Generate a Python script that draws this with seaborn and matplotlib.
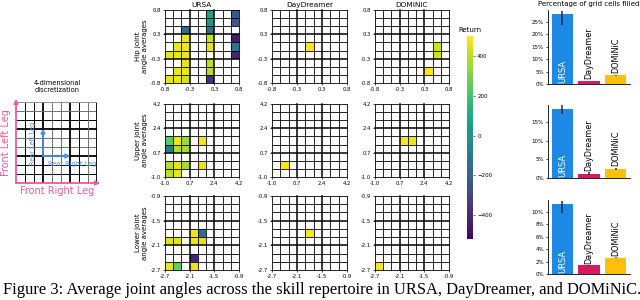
import numpy as np
import matplotlib
matplotlib.use("Agg")
import matplotlib.pyplot as plt
import seaborn as sns
from matplotlib.ticker import PercentFormatter

# --- data ---
methods = ["URSA", "DayDreamer", "DOMiNiC"]
method_colors = ["#1E88E5", "#D81B60", "#FFC107"]
joints = ["Hip", "Upper", "Lower"]
joint_ticks = {
    "Hip": ["-0.8", "-0.3", "0.3", "0.8"],
    "Upper": ["-1.0", "0.7", "2.4", "4.2"],
    "Lower": ["-2.7", "-2.1", "-1.5", "-0.9"],
}

# filled cells of the 9x9 grid: (row from top, column) -> return
ursa_hip = {(0, 5): 50, (1, 5): 20, (2, 5): -160, (0, 8): -240, (1, 8): -240,
            (2, 2): -150, (3, 2): 470, (3, 5): 420, (3, 8): -440,
            (4, 1): 470, (4, 2): 470, (4, 5): 460, (4, 8): -130,
            (5, 0): 470, (5, 1): 470, (5, 2): 470, (5, 8): -420,
            (6, 2): 460, (6, 5): 400, (7, 1): 470, (7, 2): 470, (7, 5): 390,
            (8, 0): 460, (8, 1): 470, (8, 2): 440, (8, 5): -380}
ursa_upper = {(4, 0): 250, (4, 1): 470, (4, 2): 340, (4, 4): 480,
              (5, 0): -110, (5, 1): 380, (5, 2): 360,
              (7, 0): 380, (7, 1): 460, (7, 2): 360, (7, 4): 470,
              (8, 0): 400, (8, 1): 470}
ursa_lower = {(4, 3): 470, (4, 4): -170, (5, 0): 460, (5, 1): 460,
              (5, 3): 470, (5, 4): 450, (7, 3): -410,
              (8, 0): 470, (8, 1): 260, (8, 3): 470}
dd_hip = {(4, 4): 490}
dd_upper = {(7, 1): 490}
dd_lower = {(4, 4): 490}
dom_hip = {(4, 7): 420, (5, 7): 430, (7, 6): 490}
dom_upper = {(4, 3): 490, (4, 4): 470}
dom_lower = {(8, 0): 490}

cells = {
    ("Hip", "URSA"): ursa_hip, ("Upper", "URSA"): ursa_upper, ("Lower", "URSA"): ursa_lower,
    ("Hip", "DayDreamer"): dd_hip, ("Upper", "DayDreamer"): dd_upper, ("Lower", "DayDreamer"): dd_lower,
    ("Hip", "DOMiNiC"): dom_hip, ("Upper", "DOMiNiC"): dom_upper, ("Lower", "DOMiNiC"): dom_lower,
}
return_min, return_max = -520, 500
cbar_ticks = [-400, -200, 0, 200, 400]

# percentage of grid cells filled (mean, lower, upper)
fill_mean = {"Hip": [28.2, 1.2, 3.5], "Upper": [18.4, 1.07, 2.4], "Lower": [11.2, 1.4, 2.6]}
fill_lo = {"Hip": [23.8, 1.1, 3.3], "Upper": [17.2, 0.9, 2.2], "Lower": [9.8, 1.35, 2.5]}
fill_hi = {"Hip": [29.2, 1.3, 3.8], "Upper": [19.5, 1.5, 2.8], "Lower": [11.8, 1.45, 2.7]}
fill_ylim = {"Hip": 29.8, "Upper": 19.6, "Lower": 11.9}
fill_yticks = {"Hip": [0, 5, 10, 15, 20, 25], "Upper": [0, 5, 10, 15], "Lower": [0, 2, 4, 6, 8, 10]}

n_bins = 9
pink = "#e75a9b"
blue = "#4b8fe8"

W, H = 640, 300


def box(x0, y0, x1, y1):
    return [x0 / W, 1 - y1 / H, (x1 - x0) / W, (y1 - y0) / H]


def draw_grid(ax):
    for k in range(n_bins + 1):
        lw = 1.1 if k % 3 == 0 and k not in (0, n_bins) else 0.6
        ax.axhline(k, color="black", lw=lw, clip_on=False)
        ax.axvline(k, color="black", lw=lw, clip_on=False)


fig = plt.figure(figsize=(6.4, 3.0), dpi=100)

# --- schematic of the 4-d discretization ---
ax = fig.add_axes(box(16, 102, 97, 183))
ax.set_xlim(0, n_bins)
ax.set_ylim(0, n_bins)
ax.axis("off")
for k in range(1, n_bins + 1):
    lw = 1.3 if k % 3 == 0 else 0.7
    col = "black" if k % 3 == 0 or k in (1, 2, 7) else "#707070"
    ax.axvline(k, color=col, lw=lw)
    if k == n_bins:
        ax.axhline(k, color="#909090", lw=0.7)
    else:
        ax.axhline(k, color=col, lw=lw)
arrow = dict(arrowstyle="-|>", lw=1.3, shrinkA=0, shrinkB=0, mutation_scale=6)
ax.annotate("", xy=(0, 9.35), xytext=(0, 0), annotation_clip=False,
            arrowprops=dict(arrow, color=pink))
ax.annotate("", xy=(9.35, 0), xytext=(0, 0), annotation_clip=False,
            arrowprops=dict(arrow, color=pink))
ax.annotate("", xy=(3, 6.05), xytext=(3, 3), arrowprops=dict(arrow, color=blue))
ax.annotate("", xy=(6.05, 3), xytext=(3, 3), arrowprops=dict(arrow, color=blue))
ax.text(1.9, 4.45, "Rear Left Leg", rotation=90, color=blue, fontsize=4.7,
        ha="center", va="center")
ax.text(6.25, 2.15, "Rear Right Leg", color=blue, fontsize=4.7, ha="center", va="center")
fig.text(6 / W, 1 - 143 / H, "Front Left Leg", rotation=90, color=pink, fontsize=7,
         ha="center", va="center")
fig.text(57 / W, 1 - 191 / H, "Front Right Leg", color=pink, fontsize=7,
         ha="center", va="center")
fig.text(57 / W, 1 - 86.5 / H, "4-dimensional\ndiscretization", fontsize=4.8,
         ha="center", va="center", linespacing=1.15)

# --- heatmaps ---
col_x = [(165, 239), (272, 347), (375, 449)]
row_y = [(10, 83), (104, 177), (196, 270)]
first = None
for r, joint in enumerate(joints):
    for c, method in enumerate(methods):
        grid = np.full((n_bins, n_bins), np.nan)
        for (i, j), v in cells[(joint, method)].items():
            grid[i, j] = v
        ax = fig.add_axes(box(col_x[c][0], row_y[r][0], col_x[c][1], row_y[r][1]))
        sns.heatmap(grid, ax=ax, cmap="viridis", vmin=return_min, vmax=return_max,
                    cbar=False, xticklabels=False, yticklabels=False)
        if first is None:
            first = ax
        draw_grid(ax)
        ticks = joint_ticks[joint]
        ax.set_xticks([0, 3, 6, 9])
        ax.set_xticklabels(ticks)
        ax.set_yticks([0, 3, 6, 9])
        ax.set_yticklabels(ticks[::-1])
        ax.tick_params(labelsize=3.8, length=1.5, width=0.5, pad=1.5)
        if r == 0:
            ax.set_title(method, fontsize=5.3, pad=2)
        if c == 0:
            ax.set_ylabel(f"{joint} joint\nangle averages", fontsize=5, labelpad=2,
                          linespacing=1.1)

cax = fig.add_axes(box(467, 36, 473, 239))
cb = fig.colorbar(first.collections[0], cax=cax)
cb.outline.set_visible(False)
cb.set_ticks(cbar_ticks)
cax.tick_params(labelsize=4, length=1.5, width=0.4, pad=1.5)
cax.set_title("Return", fontsize=5, pad=3)

# --- bar charts ---
bar_y = [(10, 84), (105, 178), (200, 274)]
for r, joint in enumerate(joints):
    ax = fig.add_axes(box(548, bar_y[r][0], 630, bar_y[r][1]))
    vals = np.array(fill_mean[joint])
    lo = np.array(fill_lo[joint])
    hi = np.array(fill_hi[joint])
    sns.barplot(x=methods, y=vals, hue=methods, palette=method_colors, legend=False,
                saturation=1, width=0.8, ax=ax)
    ax.errorbar(range(len(methods)), vals, yerr=[vals - lo, hi - vals], fmt="none",
                ecolor="#2a2a35", elinewidth=1.1, capsize=0)
    ax.set_ylim(0, fill_ylim[joint])
    ax.set_yticks(fill_yticks[joint])
    ax.yaxis.set_major_formatter(PercentFormatter(decimals=0))
    ax.set_xticks([])
    ax.set_ylabel("")
    sns.despine(ax=ax)
    for s in ["left", "bottom"]:
        ax.spines[s].set_linewidth(0.6)
    ax.tick_params(labelsize=4, length=1.5, width=0.5, pad=1.5)
    ax.text(0, fill_ylim[joint] * 0.02, methods[0], rotation=90, color="white",
            fontsize=6, ha="center", va="bottom")
    for j in (1, 2):
        ax.annotate(methods[j], (j, hi[j]), xytext=(0, 1), textcoords="offset points",
                    rotation=90, fontsize=5.8, ha="center", va="bottom")
    if r == 0:
        ax.set_title("Percentage of grid cells filled", fontsize=5, pad=3)

fig.text(3 / W, 1 - 290 / H,
         "Figure 3: Average joint angles across the skill repertoire in URSA, DayDreamer, and DOMiNiC.",
         family="Liberation Serif", fontsize=11.9, ha="left", va="center")

fig.savefig("out.png", dpi=100)
